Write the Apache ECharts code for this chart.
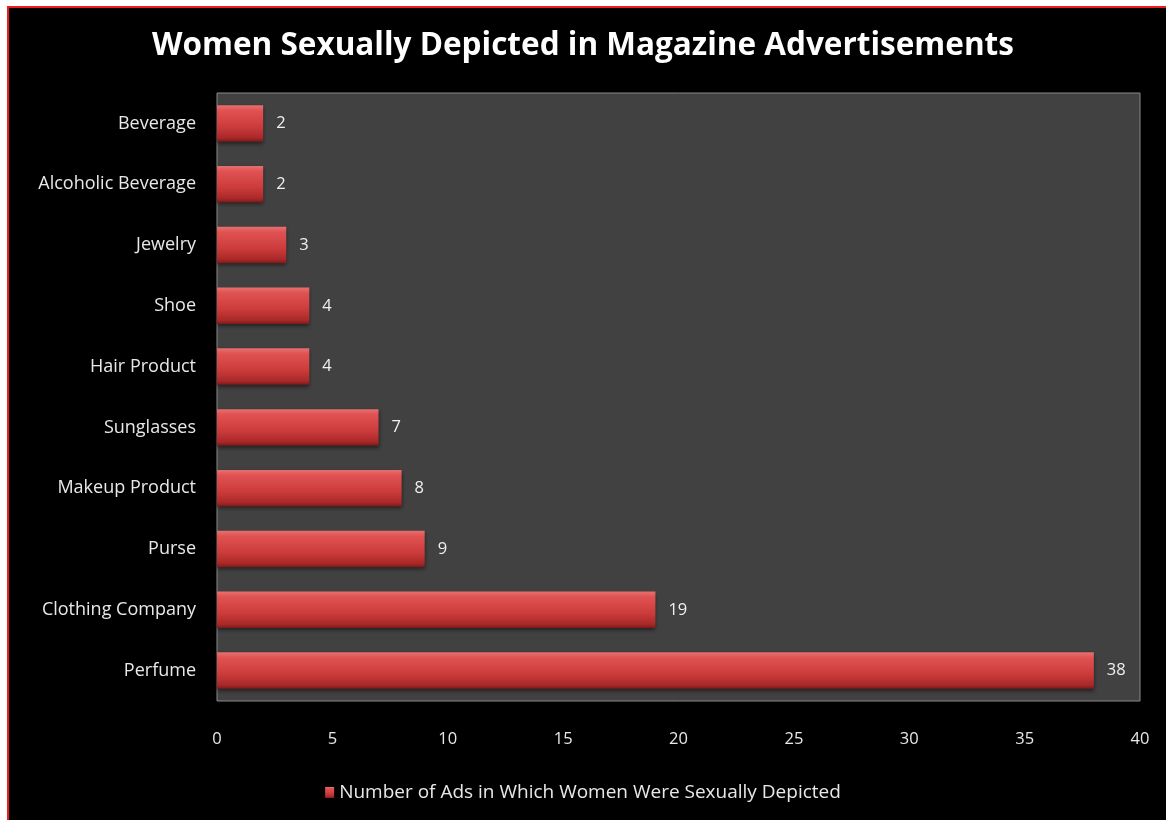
<!DOCTYPE html>
<html><head><meta charset="utf-8">
<script src="https://cdn.jsdelivr.net/npm/echarts@6/dist/echarts.min.js"></script>
<style>html,body{margin:0;padding:0;background:#fff;}#c{width:1166px;height:820px;}</style>
</head><body><div id="c"></div>
<script>
const categories = ["Perfume","Clothing Company","Purse","Makeup Product","Sunglasses","Hair Product","Shoe","Jewelry","Alcoholic Beverage","Beverage"];
const values = [38,19,9,8,7,4,4,3,2,2];
const seriesName = "Number of Ads in Which Women Were Sexually Depicted";
const titleText = "Women Sexually Depicted in Magazine Advertisements";
const xTicks = {min:0, max:40, interval:5};

const chart = echarts.init(document.getElementById('c'), null, {renderer:'canvas'});
const font = '"Open Sans", "DejaVu Sans", sans-serif';
const barGrad = new echarts.graphic.LinearGradient(0,0,0,1,[
  {offset:0, color:'#e87070'},
  {offset:0.15, color:'#e05252'},
  {offset:0.6, color:'#cc3b3b'},
  {offset:0.9, color:'#a82828'},
  {offset:1, color:'#7a1a1a'}
]);
chart.setOption({
  backgroundColor:'#000',
  animation:false,
  graphic:[
    {type:'rect', shape:{x:0,y:0,width:1166,height:6}, style:{fill:'#fff'}, z:100},
    {type:'rect', shape:{x:0,y:0,width:7,height:820}, style:{fill:'#fff'}, z:100},
    {type:'rect', shape:{x:7,y:6,width:1159,height:2}, style:{fill:'#ee1c1c'}, z:101},
    {type:'rect', shape:{x:7,y:6,width:2,height:814}, style:{fill:'#ee1c1c'}, z:101}
  ],
  title:{text:titleText, left:'center', top:25,
    textStyle:{color:'#fff', fontFamily:font, fontWeight:'bold', fontSize:31.5}},
  grid:{left:217, right:26, top:93, bottom:119, show:true, backgroundColor:'#414141', borderColor:'#8a8a8a', borderWidth:1, containLabel:false},
  legend:{bottom:13, left:'center', itemWidth:9, itemHeight:11, itemGap:6,
    textStyle:{color:'#e8e8e8', fontFamily:font, fontSize:19},
    data:[{name:seriesName, icon:'rect'}]},
  xAxis:{type:'value', min:xTicks.min, max:xTicks.max, interval:xTicks.interval,
    axisLine:{show:false}, axisTick:{show:false}, splitLine:{show:false},
    axisLabel:{color:'#e8e8e8', fontFamily:font, fontSize:16.5, margin:30}},
  yAxis:{type:'category', data:categories,
    axisLine:{show:false}, axisTick:{show:false},
    axisLabel:{color:'#e8e8e8', fontFamily:font, fontSize:18, margin:21}},
  series:[{type:'bar', name:seriesName, data:values, barWidth:'60%',
    itemStyle:{color:barGrad, shadowColor:'rgba(0,0,0,0.5)', shadowBlur:4, shadowOffsetY:2},
    label:{show:true, position:'right', distance:13, color:'#f0f0f0', fontFamily:font, fontSize:16.5}}]
});
</script></body></html>
